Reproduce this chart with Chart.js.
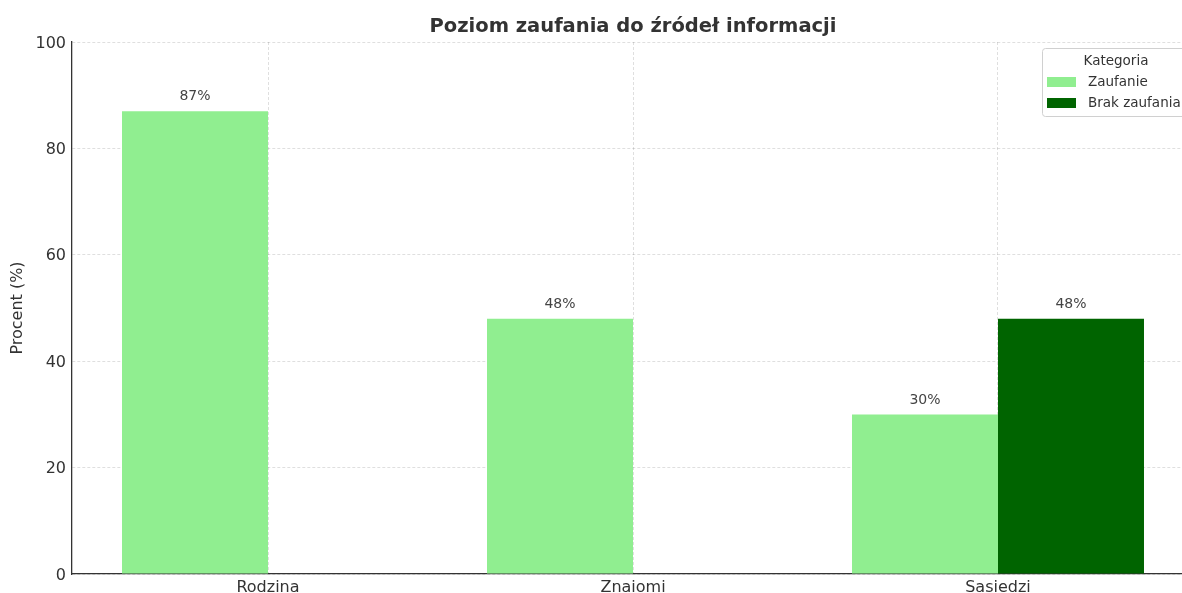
<!DOCTYPE html>
<html>
<head>
<meta charset="utf-8">
<script src="https://cdn.jsdelivr.net/npm/chart.js@4/dist/chart.umd.min.js"></script>
<style>
  html, body { margin: 0; padding: 0; background: #fff; overflow: hidden; width: 1182px; height: 593px; }
  #wrap { width: 1182px; height: 593px; overflow: hidden; position: relative; }
  canvas { display: block; }
</style>
</head>
<body>
<div id="wrap"><canvas id="c" width="1266" height="593"></canvas></div>
<script>
const categories = ['Rodzina', 'Znaiomi', 'Sasiedzi'];
const trustValues = [87, 48, 30];
const distrustValues = [null, null, 48];
const seriesNames = ['Zaufanie', 'Brak zaufania'];
const seriesColors = ['#90EE90', '#006400'];
const yTicks = [0, 20, 40, 60, 80, 100];
const chartTitle = 'Poziom zaufania do źródeł informacji';

const FONT = "'DejaVu Sans', sans-serif";

function toPoints(arr) { return arr.map((v, i) => ({ x: i, y: v })); }

const titleCentered = {
  id: 'titleCentered',
  afterDraw(chart) {
    const ctx = chart.ctx;
    const a = chart.chartArea;
    ctx.save();
    ctx.font = 'bold 19.5px ' + FONT;
    ctx.fillStyle = '#333';
    ctx.textAlign = 'center';
    ctx.textBaseline = 'middle';
    ctx.fillText(chartTitle, (a.left + a.right) / 2, 27);
    ctx.restore();
  }
};

const barLabels = {
  id: 'barLabels',
  afterDatasetsDraw(chart) {
    const ctx = chart.ctx;
    ctx.save();
    ctx.font = '14px ' + FONT;
    ctx.fillStyle = '#444';
    ctx.textAlign = 'center';
    ctx.textBaseline = 'middle';
    chart.data.datasets.forEach((ds, di) => {
      const meta = chart.getDatasetMeta(di);
      meta.data.forEach((el, i) => {
        const v = ds.data[i].y;
        if (v === null || v === undefined) return;
        ctx.fillText(v + '%', el.x, el.y - 14.5);
      });
    });
    ctx.restore();
  }
};

const boxLegend = {
  id: 'boxLegend',
  afterDraw(chart) {
    const ctx = chart.ctx;
    ctx.save();
    const x = 1042.5, y = 48.5, w = 148, h = 68, r = 3;
    ctx.beginPath();
    ctx.moveTo(x + r, y);
    ctx.lineTo(x + w - r, y); ctx.arcTo(x + w, y, x + w, y + r, r);
    ctx.lineTo(x + w, y + h - r); ctx.arcTo(x + w, y + h, x + w - r, y + h, r);
    ctx.lineTo(x + r, y + h); ctx.arcTo(x, y + h, x, y + h - r, r);
    ctx.lineTo(x, y + r); ctx.arcTo(x, y, x + r, y, r);
    ctx.closePath();
    ctx.fillStyle = 'rgba(255,255,255,0.85)';
    ctx.fill();
    ctx.strokeStyle = '#d0d0d0';
    ctx.lineWidth = 1;
    ctx.stroke();
    ctx.fillStyle = '#333';
    ctx.font = '13.5px ' + FONT;
    ctx.textAlign = 'center';
    ctx.textBaseline = 'middle';
    ctx.fillText('Kategoria', 1116, 61);
    ctx.textAlign = 'left';
    chart.data.datasets.forEach((ds, i) => {
      const yy = 82 + i * 21;
      ctx.fillStyle = ds.backgroundColor;
      ctx.fillRect(1047, yy - 5, 29, 10);
      ctx.fillStyle = '#333';
      ctx.fillText(ds.label, 1088, yy);
    });
    ctx.restore();
  }
};

new Chart(document.getElementById('c'), {
  type: 'bar',
  data: {
    datasets: [
      { label: seriesNames[0], data: toPoints(trustValues), backgroundColor: seriesColors[0], borderWidth: 0 },
      { label: seriesNames[1], data: toPoints(distrustValues), backgroundColor: seriesColors[1], borderWidth: 0 }
    ]
  },
  options: {
    responsive: false,
    animation: false,
    devicePixelRatio: 1,
    layout: { padding: { left: 0, right: 72, top: 42, bottom: 0 } },
    datasets: { bar: { categoryPercentage: 0.8, barPercentage: 1.0 } },
    plugins: {
      legend: { display: false },
      tooltip: { enabled: false },
      title: { display: false }
    },
    scales: {
      x: {
        type: 'linear',
        offset: false,
        min: -0.537,
        max: 2.537,
        afterBuildTicks(scale) { scale.ticks = categories.map((c, i) => ({ value: i })); },
        afterFit(scale) { scale.height = 19; },
        ticks: {
          callback: (v) => categories[v] !== undefined ? categories[v] : '',
          color: '#333',
          font: { family: FONT, size: 16 },
          padding: 4,
          maxRotation: 0,
          autoSkip: false
        },
        grid: { offset: false, color: 'rgba(0,0,0,0.16)', lineWidth: 0.8, drawTicks: false, tickLength: 0 },
        border: { display: true, color: '#333', width: 1.3, dash: [3, 2] }
      },
      y: {
        min: 0,
        max: 100,
        afterBuildTicks(scale) { scale.ticks = yTicks.map(v => ({ value: v })); },
        afterFit(scale) { scale.width = 72; },
        ticks: { color: '#333', font: { family: FONT, size: 16 }, padding: 6, labelOffset: 1.5 },
        grid: { color: 'rgba(0,0,0,0.16)', lineWidth: 0.8, drawTicks: false, tickLength: 0 },
        border: { display: true, color: '#333', width: 1.3, dash: [3, 2] },
        title: {
          display: true,
          text: 'Procent (%)',
          color: '#333',
          font: { family: FONT, size: 16, lineHeight: 1.2 },
          padding: { top: 8, bottom: 0 }
        }
      }
    }
  },
  plugins: [barLabels, boxLegend, titleCentered]
});
</script>
</body>
</html>
